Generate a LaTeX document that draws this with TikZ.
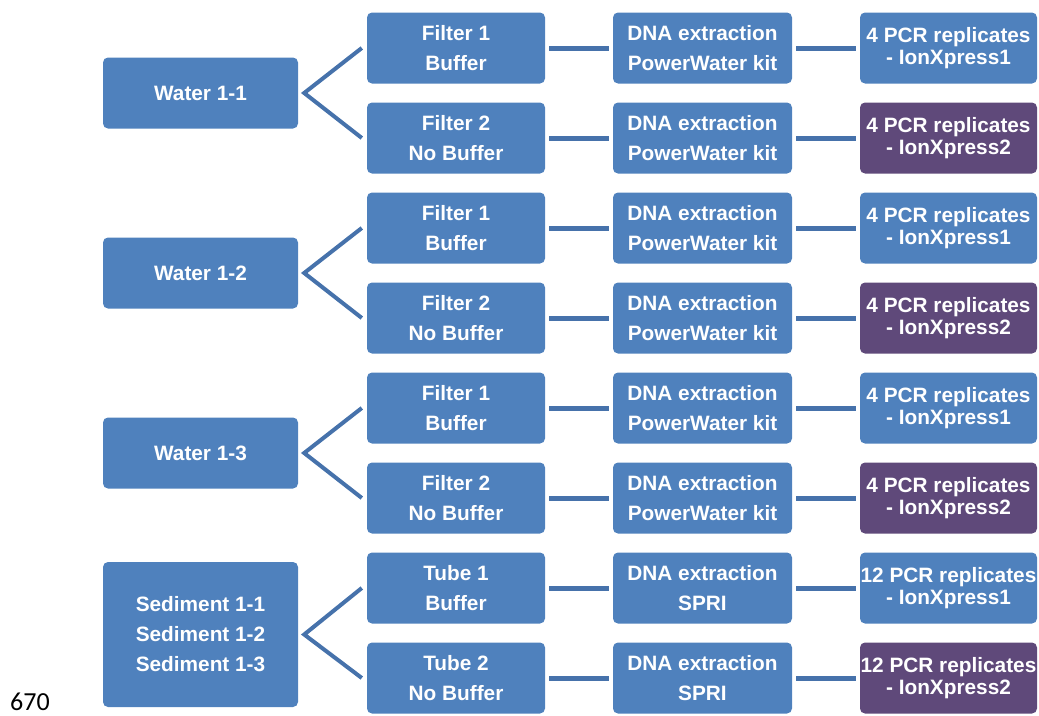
\documentclass[tikz,border=0pt]{standalone}
\usepackage{fontspec}
\setmainfont{Liberation Sans}
\newfontfamily\numfont{Carlito}
\definecolor{boxblue}{HTML}{4F81BD}
\definecolor{boxpurple}{HTML}{5F497A}
\definecolor{lineblue}{HTML}{4672AB}

\begin{document}
\begin{tikzpicture}
  [x=1pt, y=-1pt,
   box/.style={fill=boxblue, rounded corners=5pt, text=white, align=center,
     inner sep=0pt, minimum height=71pt,
     font=\bfseries\fontsize{20.8}{30}\selectfont},
   src/.style={box, minimum width=195pt},
   filt/.style={box, minimum width=178pt},
   ext/.style={box, minimum width=179pt},
   pcr/.style={box, minimum width=177pt,
     font=\bfseries\fontsize{20.8}{21.5}\selectfont},
   alt/.style={fill=boxpurple},
   link/.style={draw=lineblue, line width=5pt, shorten <=4pt, shorten >=4pt},
   branch/.style={draw=lineblue, line width=4pt}]
  \useasboundingbox (0,0) rectangle (1039,715);

  \node[src] (w1) at (200.5, 93) {Water 1-1};
  \node[src] (w2) at (200.5, 273) {Water 1-2};
  \node[src] (w3) at (200.5, 453) {Water 1-3};
  \node[src, minimum height=145pt] (sed) at (200.5, 634.5)
    {Sediment 1-1\\Sediment 1-2\\Sediment 1-3};

  \node[filt] (f1) at (456, 48) {Filter 1\\Buffer};
  \node[filt] (f2) at (456, 138) {Filter 2\\No Buffer};
  \node[filt] (f3) at (456, 228) {Filter 1\\Buffer};
  \node[filt] (f4) at (456, 318) {Filter 2\\No Buffer};
  \node[filt] (f5) at (456, 408) {Filter 1\\Buffer};
  \node[filt] (f6) at (456, 498) {Filter 2\\No Buffer};
  \node[filt] (f7) at (456, 588) {Tube 1\\Buffer};
  \node[filt] (f8) at (456, 678) {Tube 2\\No Buffer};

  \node[ext] (d1) at (702.5, 48) {DNA extraction\\PowerWater kit};
  \node[ext] (d2) at (702.5, 138) {DNA extraction\\PowerWater kit};
  \node[ext] (d3) at (702.5, 228) {DNA extraction\\PowerWater kit};
  \node[ext] (d4) at (702.5, 318) {DNA extraction\\PowerWater kit};
  \node[ext] (d5) at (702.5, 408) {DNA extraction\\PowerWater kit};
  \node[ext] (d6) at (702.5, 498) {DNA extraction\\PowerWater kit};
  \node[ext] (d7) at (702.5, 588) {DNA extraction\\SPRI};
  \node[ext] (d8) at (702.5, 678) {DNA extraction\\SPRI};

  \node[pcr] (p1) at (948.5, 48) {4 PCR replicates\\- IonXpress1};
  \node[pcr, alt] (p2) at (948.5, 138) {4 PCR replicates\\- IonXpress2};
  \node[pcr] (p3) at (948.5, 228) {4 PCR replicates\\- IonXpress1};
  \node[pcr, alt] (p4) at (948.5, 318) {4 PCR replicates\\- IonXpress2};
  \node[pcr] (p5) at (948.5, 408) {4 PCR replicates\\- IonXpress1};
  \node[pcr, alt] (p6) at (948.5, 498) {4 PCR replicates\\- IonXpress2};
  \node[pcr] (p7) at (948.5, 588) {12 PCR replicates\\- IonXpress1};
  \node[pcr, alt] (p8) at (948.5, 678) {12 PCR replicates\\- IonXpress2};

  \node[font=\numfont\fontsize{26}{30}\selectfont, inner sep=0pt, anchor=base west]
    (num) at (10, 710) {670};

  \foreach \from/\to in {f1/d1,f2/d2,f3/d3,f4/d4,f5/d5,f6/d6,f7/d7,f8/d8,
                         d1/p1,d2/p2,d3/p3,d4/p4,d5/p5,d6/p6,d7/p7,d8/p8}
  \draw[link] (\from) -- (\to);
  \foreach \src/\up/\down in {w1/f1/f2,w2/f3/f4,w3/f5/f6,sed/f7/f8}
  \draw[branch] ([xshift=-5pt]\up.west) -- ([xshift=6pt]\src.east)
    -- ([xshift=-5pt]\down.west);
\end{tikzpicture}
\end{document}
